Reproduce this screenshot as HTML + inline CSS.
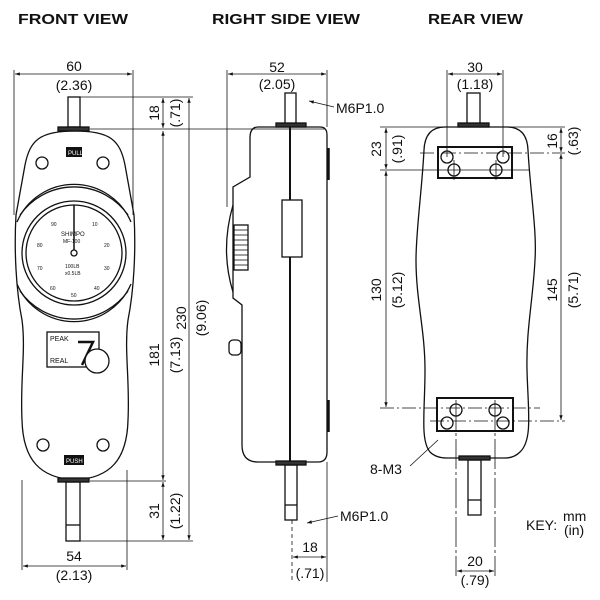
<!DOCTYPE html>
<html><head><meta charset="utf-8"><style>
html,body{margin:0;padding:0;background:#fff}
svg{display:block}
text{font-family:"Liberation Sans",sans-serif;fill:#111}
</style></head><body>
<svg width="600" height="600" viewBox="0 0 600 600" xmlns="http://www.w3.org/2000/svg">
<defs>
<marker id="a" viewBox="0 0 10 10" refX="10" refY="5" markerWidth="6" markerHeight="6" orient="auto-start-reverse"><path d="M0,1.5 L10,5 L0,8.5 z" fill="#111"/></marker>
</defs>
<g font-weight="bold" font-size="15">
<text x="18" y="24" textLength="110" lengthAdjust="spacingAndGlyphs">FRONT VIEW</text>
<text x="212" y="24" textLength="148" lengthAdjust="spacingAndGlyphs">RIGHT SIDE VIEW</text>
<text x="428" y="24" textLength="95" lengthAdjust="spacingAndGlyphs">REAR VIEW</text>
</g>

<!-- FRONT VIEW -->
<g stroke="#111" fill="none" stroke-width="1.3">
<path d="M75,131 C40,131 30,140 25,165 L16,215 C14,250 16,290 22,320 C26,350 20,380 22,420 C23,460 40,478 75,480 C110,478 127,460 128,420 C130,380 124,350 128,320 C134,290 136,250 134,215 L125,165 C120,140 110,131 75,131 Z"/>
<rect x="68" y="97" width="12" height="30"/>
<rect x="58" y="127" width="31" height="4" fill="#333"/>
<rect x="66" y="482" width="14" height="59"/>
<line x1="66" y1="525" x2="80" y2="525"/>
<rect x="58" y="478" width="31" height="4" fill="#333"/>
<circle cx="42" cy="163" r="6"/><circle cx="103" cy="163" r="6"/>
<circle cx="43" cy="445" r="6"/><circle cx="103" cy="445" r="6"/>
<circle cx="74" cy="253" r="48"/>
<circle cx="74" cy="253" r="52"/>
<path d="M17,222 A62,62 0 0 1 131,222"/>
<path d="M20,215 A66,66 0 0 1 128,215"/>
<path d="M17,284 A62,62 0 0 0 131,284"/>
<path d="M20,291 A66,66 0 0 0 128,291"/>
<line x1="74" y1="205" x2="74" y2="250" stroke-width="1.5"/>
<circle cx="74" cy="253" r="3"/>
<rect x="47" y="332" width="52" height="35"/>
<path d="M78,342 L93,342 L82,365" stroke-width="2.5"/>
<circle cx="97" cy="361" r="12" fill="#fff"/>
</g>
<rect x="66" y="147" width="16" height="10" fill="#111"/>
<rect x="64" y="455" width="20" height="10" fill="#111"/>
<text x="68" y="155" font-size="6" style="fill:#fff">PULL</text>
<text x="66" y="463" font-size="6" style="fill:#fff">PUSH</text>
<text x="61" y="236" font-size="6">SHIMPO</text>
<text x="63" y="243" font-size="5">MF-100</text>
<text x="65" y="268" font-size="5">100LB</text>
<text x="65" y="275" font-size="5">x0.5LB</text>
<g font-size="5" fill="#444"><text x="51" y="226">90</text><text x="92" y="226">10</text><text x="37" y="247">80</text><text x="104" y="247">20</text><text x="37" y="270">70</text><text x="104" y="270">30</text><text x="50" y="290">60</text><text x="94" y="290">40</text><text x="71" y="297">50</text></g>
<text x="50" y="341" font-size="7">PEAK</text>
<text x="50" y="363" font-size="7">REAL</text>

<!-- front dims -->
<g stroke="#111" stroke-width="0.8" fill="none">
<line x1="14" y1="70" x2="14" y2="215"/><line x1="133" y1="70" x2="133" y2="215"/>
<line x1="15" y1="74" x2="132" y2="74" marker-start="url(#a)" marker-end="url(#a)"/>
<line x1="80" y1="97" x2="193" y2="97"/>
<line x1="90" y1="129" x2="325" y2="129"/>
<line x1="90" y1="481" x2="166" y2="481"/>
<line x1="80" y1="541" x2="193" y2="541"/>
<line x1="163" y1="98" x2="163" y2="128" marker-start="url(#a)" marker-end="url(#a)"/>
<line x1="163" y1="131" x2="163" y2="480" marker-start="url(#a)" marker-end="url(#a)"/>
<line x1="163" y1="482" x2="163" y2="540" marker-start="url(#a)" marker-end="url(#a)"/>
<line x1="189" y1="98" x2="189" y2="540" marker-start="url(#a)" marker-end="url(#a)"/>
<line x1="22" y1="480" x2="22" y2="570"/><line x1="127" y1="470" x2="127" y2="570"/>
<line x1="23" y1="566" x2="126" y2="566" marker-start="url(#a)" marker-end="url(#a)"/>
</g>
<g font-size="14">
<text x="74" y="71" text-anchor="middle">60</text>
<text x="74" y="90" text-anchor="middle">(2.36)</text>
<text x="74" y="561" text-anchor="middle">54</text>
<text x="74" y="580" text-anchor="middle">(2.13)</text>
<text transform="translate(159,113) rotate(-90)" text-anchor="middle">18</text>
<text transform="translate(180,113) rotate(-90)" text-anchor="middle">(.71)</text>
<text transform="translate(159,355) rotate(-90)" text-anchor="middle">181</text>
<text transform="translate(180,355) rotate(-90)" text-anchor="middle">(7.13)</text>
<text transform="translate(159,511) rotate(-90)" text-anchor="middle">31</text>
<text transform="translate(180,511) rotate(-90)" text-anchor="middle">(1.22)</text>
<text transform="translate(186,318) rotate(-90)" text-anchor="middle">230</text>
<text transform="translate(206,318) rotate(-90)" text-anchor="middle">(9.06)</text>
</g>

<!-- SIDE VIEW -->
<g stroke="#111" fill="none" stroke-width="1.3">
<path d="M258,127 L320,127 Q327,127 327,135 L327,452 Q327,462 318,462 L258,462 Q242,462 242,445 L242,305 L233,298 L233,187 L250,177 L250,138 Q250,127 258,127 Z"/>
<path d="M233,205 Q220,250 233,292"/>
<rect x="234" y="225" width="14" height="45" fill="#fff"/>
<g stroke-width="0.8"><line x1="234" y1="230" x2="248" y2="230"/><line x1="234" y1="235" x2="248" y2="235"/><line x1="234" y1="240" x2="248" y2="240"/><line x1="234" y1="245" x2="248" y2="245"/><line x1="234" y1="250" x2="248" y2="250"/><line x1="234" y1="255" x2="248" y2="255"/><line x1="234" y1="260" x2="248" y2="260"/><line x1="234" y1="265" x2="248" y2="265"/></g>
<rect x="229" y="340" width="12" height="15" rx="4"/>
<line x1="290" y1="124" x2="290" y2="465" stroke-width="2"/>
<rect x="282" y="200" width="20" height="57" fill="#fff"/>
<rect x="285" y="93" width="11" height="32"/>
<rect x="276" y="123" width="30" height="4" fill="#333"/>
<rect x="285" y="465" width="12" height="55"/>
<line x1="285" y1="505" x2="297" y2="505"/>
<rect x="276" y="461" width="30" height="4" fill="#333"/>
<line x1="328.5" y1="148" x2="328.5" y2="180" stroke-width="2.5"/>
<line x1="328.5" y1="400" x2="328.5" y2="432" stroke-width="2.5"/>
</g>
<g stroke="#111" stroke-width="0.8" fill="none">
<line x1="227" y1="70" x2="227" y2="207"/><line x1="327" y1="70" x2="327" y2="127"/>
<line x1="228" y1="74" x2="326" y2="74" marker-start="url(#a)" marker-end="url(#a)"/>
<line x1="334" y1="107" x2="309" y2="101" marker-end="url(#a)"/>
<line x1="338" y1="516" x2="307" y2="523" marker-end="url(#a)"/>
<line x1="292" y1="520" x2="292" y2="582" stroke-dasharray="4,3"/>
<line x1="327" y1="462" x2="327" y2="582"/>
<line x1="293" y1="557" x2="326" y2="557" marker-start="url(#a)" marker-end="url(#a)"/>
</g>
<g font-size="14">
<text x="277" y="72" text-anchor="middle">52</text>
<text x="277" y="89" text-anchor="middle">(2.05)</text>
<text x="336" y="113">M6P1.0</text>
<text x="340" y="521">M6P1.0</text>
<text x="310" y="552" text-anchor="middle">18</text>
<text x="310" y="578" text-anchor="middle">(.71)</text>
</g>

<!-- REAR VIEW -->
<g stroke="#111" fill="none" stroke-width="1.3">
<path d="M445,127 L507,127 Q527,127 528,150 C530,190 537,230 535,260 C533,300 526,330 527,370 C528,410 533,440 520,452 Q514,458 505,458 L447,458 Q436,458 430,452 C420,440 425,410 425,370 C425,330 416,300 416,260 C416,230 422,190 424,150 Q425,127 445,127 Z"/>
<rect x="438" y="147" width="74" height="31" stroke-width="2"/>
<rect x="437" y="398" width="76" height="33" stroke-width="2"/>
<circle cx="447" cy="157" r="6"/><circle cx="503" cy="157" r="6"/>
<circle cx="454" cy="170" r="6"/><circle cx="496" cy="170" r="6"/>
<circle cx="456" cy="410" r="6"/><circle cx="495" cy="410" r="6"/>
<circle cx="447" cy="423" r="6"/><circle cx="503" cy="423" r="6"/>
<rect x="467" y="93" width="13" height="32"/>
<rect x="458" y="123" width="31" height="4" fill="#333"/>
<rect x="468" y="460" width="13" height="55"/>
<line x1="468" y1="500" x2="481" y2="500"/>
<rect x="459" y="456" width="31" height="4" fill="#333"/>
</g>
<g stroke="#111" stroke-width="0.8" fill="none">
<line x1="447" y1="70" x2="447" y2="157"/><line x1="503" y1="70" x2="503" y2="157"/>
<line x1="448" y1="74" x2="502" y2="74" marker-start="url(#a)" marker-end="url(#a)"/>
<line x1="454" y1="160" x2="454" y2="180"/><line x1="496" y1="160" x2="496" y2="180"/>
<line x1="380" y1="127" x2="445" y2="127"/>
<line x1="380" y1="170" x2="530" y2="170"/>
<line x1="380" y1="408" x2="540" y2="408" stroke-dasharray="14,3,2,3"/>
<line x1="420" y1="153" x2="565" y2="153" stroke-dasharray="14,3,2,3"/>
<line x1="507" y1="127" x2="565" y2="127"/>
<line x1="430" y1="421" x2="565" y2="421" stroke-dasharray="14,3,2,3"/>
<line x1="386" y1="128" x2="386" y2="169" marker-start="url(#a)" marker-end="url(#a)"/>
<line x1="386" y1="171" x2="386" y2="407" marker-start="url(#a)" marker-end="url(#a)"/>
<line x1="561" y1="128" x2="561" y2="152" marker-start="url(#a)" marker-end="url(#a)"/>
<line x1="561" y1="154" x2="561" y2="420" marker-start="url(#a)" marker-end="url(#a)"/>
<line x1="456" y1="400" x2="456" y2="576" stroke-dasharray="30,3,3,3"/>
<line x1="495" y1="400" x2="495" y2="576" stroke-dasharray="30,3,3,3"/>
<line x1="457" y1="571" x2="494" y2="571" marker-start="url(#a)" marker-end="url(#a)"/>
<line x1="410" y1="466" x2="438" y2="440"/>
</g>
<g font-size="14">
<text x="475" y="72" text-anchor="middle">30</text>
<text x="475" y="89" text-anchor="middle">(1.18)</text>
<text transform="translate(381,149) rotate(-90)" text-anchor="middle">23</text>
<text transform="translate(402,149) rotate(-90)" text-anchor="middle">(.91)</text>
<text transform="translate(381,290) rotate(-90)" text-anchor="middle">130</text>
<text transform="translate(402,290) rotate(-90)" text-anchor="middle">(5.12)</text>
<text transform="translate(557,141) rotate(-90)" text-anchor="middle">16</text>
<text transform="translate(578,141) rotate(-90)" text-anchor="middle">(.63)</text>
<text transform="translate(557,290) rotate(-90)" text-anchor="middle">145</text>
<text transform="translate(578,290) rotate(-90)" text-anchor="middle">(5.71)</text>
<text x="370" y="474">8-M3</text>
<text x="475" y="566" text-anchor="middle">20</text>
<text x="475" y="585" text-anchor="middle">(.79)</text>
<text x="526" y="530">KEY:</text>
<text x="563" y="521">mm</text>
<text x="564" y="535">(in)</text>
</g>
</svg>
</body></html>
